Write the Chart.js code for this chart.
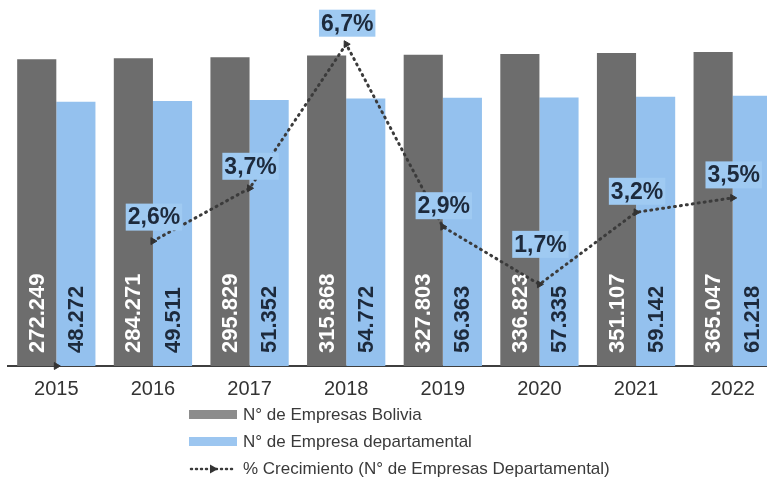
<!DOCTYPE html>
<html>
<head>
<meta charset="utf-8">
<script src="https://cdn.jsdelivr.net/npm/chart.js@4"></script>
<style>
  html, body { margin: 0; padding: 0; background: #fff; overflow: hidden; }
  #wrap { position: relative; width: 781px; height: 478px; }
  #legend { position: absolute; left: 189px; top: 401px; font-family: "Liberation Sans", Arial, sans-serif;
            font-size: 17px; color: #3a3a3a; }
  #legend .row { display: flex; align-items: center; height: 27px; }
  #legend .sw { width: 48px; height: 9px; margin-right: 6px; }
</style>
</head>
<body>
<div id="wrap">
  <canvas id="myChart" width="781" height="478"></canvas>
  <div id="legend"></div>
</div>
<script>
// values
var years = ['2015', '2016', '2017', '2018', '2019', '2020', '2021', '2022']
var empresasBolivia = [272249, 284271, 295829, 315868, 327803, 336823, 351107, 365047]
var empresasDepto = [48272, 49511, 51352, 54772, 56363, 57335, 59142, 61218]
var crecimiento = [0, 2.6, 3.7, 6.7, 2.9, 1.7, 3.2, 3.5]

var labelLift = [22, 24, 22, 21, 21, 40, 21, 23]

function fmtMiles(v) {
    return String(v).replace(/\B(?=(\d{3})+(?!\d))/g, '.')
}

var barLabels = {
    id: 'barLabels',
    afterDatasetDraw: function(chart, args) {
        var ds = chart.data.datasets[args.index]
        if (ds.type !== 'bar') return
        var ctx = chart.ctx
        var base = chart.chartArea.bottom
        ctx.save()
        ctx.font = 'bold 22px "Liberation Sans", Arial, sans-serif'
        ctx.fillStyle = ds.labelColor
        ctx.textAlign = 'left'
        ctx.textBaseline = 'middle'
        args.meta.data.forEach(function(bar, i) {
            ctx.save()
            ctx.translate(bar.x, base - 13)
            ctx.rotate(-Math.PI / 2)
            ctx.fillText(fmtMiles(ds.data[i]), 0, 1)
            ctx.restore()
        })
        ctx.restore()
    }
}

var pctLabels = {
    id: 'pctLabels',
    afterDatasetsDraw: function(chart) {
        var ctx = chart.ctx
        var meta = chart.getDatasetMeta(2)
        ctx.save()
        ctx.font = 'bold 23px "Liberation Sans", Arial, sans-serif'
        ctx.textAlign = 'center'
        ctx.textBaseline = 'middle'
        meta.data.forEach(function(pt, i) {
            if (i === 0) return
            var txt = crecimiento[i].toFixed(1).replace('.', ',') + '%'
            var w = ctx.measureText(txt).width + 4
            var cx = pt.x + 1
            var cy = pt.y - labelLift[i]
            ctx.fillStyle = '#9fcaf2'
            ctx.fillRect(cx - w / 2, cy - 13.5, w, 27)
            ctx.fillStyle = '#1d2a3c'
            ctx.fillText(txt, cx, cy + 1)
        })
        ctx.restore()
    }
}

var ctx = document.getElementById('myChart')

var myChart = new Chart(ctx, {
    data: {
        labels: years,
        datasets: [{
            type: 'bar',
            label: 'N° de Empresas Bolivia',
            data: empresasBolivia,
            backgroundColor: '#6d6d6d',
            legendColor: '#8c8c8c',
            labelColor: '#ffffff',
            yAxisID: 'y',
            order: 1
        }, {
            type: 'bar',
            label: 'N° de Empresa departamental',
            data: empresasDepto,
            backgroundColor: '#94c1ee',
            legendColor: '#9cc6f0',
            labelColor: '#1d2a3c',
            yAxisID: 'y',
            order: 1
        }, {
            type: 'line',
            label: '% Crecimiento (N° de Empresas Departamental)',
            data: crecimiento,
            borderColor: '#3b3b3b',
            borderWidth: 3,
            borderDash: [1, 5],
            borderCapStyle: 'round',
            pointStyle: 'triangle',
            pointRotation: 90,
            pointRadius: 4,
            pointBackgroundColor: '#333',
            pointBorderColor: '#333',
            pointBorderWidth: 1,
            clip: false,
            segment: {
                borderColor: function(c) { return c.p0DataIndex === 0 ? 'rgba(0,0,0,0)' : undefined }
            },
            yAxisID: 'y2',
            order: 0
        }]
    },
    options: {
        responsive: false,
        animation: false,
        layout: { autoPadding: false, padding: { left: 8, right: 0, top: 0, bottom: 66 } },
        datasets: { bar: { categoryPercentage: 0.81, barPercentage: 1.0 } },
        plugins: {
            legend: { display: false },
            tooltip: { enabled: false }
        },
        scales: {
            x: {
                grid: { display: false, drawTicks: false },
                border: { display: true, color: '#3f3f3f', width: 2 },
                ticks: {
                    color: '#333',
                    padding: 11,
                    font: { family: '"Liberation Sans", Arial, sans-serif', size: 20 }
                }
            },
            y: {
                type: 'logarithmic',
                display: false,
                min: 1,
                max: 3050000
            },
            y2: {
                type: 'linear',
                display: false,
                min: 0,
                max: 7.62
            }
        }
    },
    plugins: [barLabels, pctLabels]
})

// legend below the chart, one item per row
var leg = document.getElementById('legend')
myChart.data.datasets.forEach(function(ds) {
    var row = document.createElement('div')
    row.className = 'row'
    if (ds.type === 'bar') {
        var sw = document.createElement('div')
        sw.className = 'sw'
        sw.style.background = ds.legendColor
        row.appendChild(sw)
    } else {
        var c = document.createElement('canvas')
        c.width = 48; c.height = 12
        c.style.marginRight = '6px'
        var g = c.getContext('2d')
        g.strokeStyle = '#3b3b3b'
        g.lineWidth = 2.5
        g.lineCap = 'round'
        g.setLineDash([1, 4])
        g.beginPath(); g.moveTo(2, 6); g.lineTo(46, 6); g.stroke()
        g.fillStyle = '#333'
        g.beginPath(); g.moveTo(29, 6); g.lineTo(21, 1.5); g.lineTo(21, 10.5); g.closePath(); g.fill()
        row.appendChild(c)
    }
    var t = document.createElement('span')
    t.textContent = ds.label
    row.appendChild(t)
    leg.appendChild(row)
})
</script>
</body>
</html>
